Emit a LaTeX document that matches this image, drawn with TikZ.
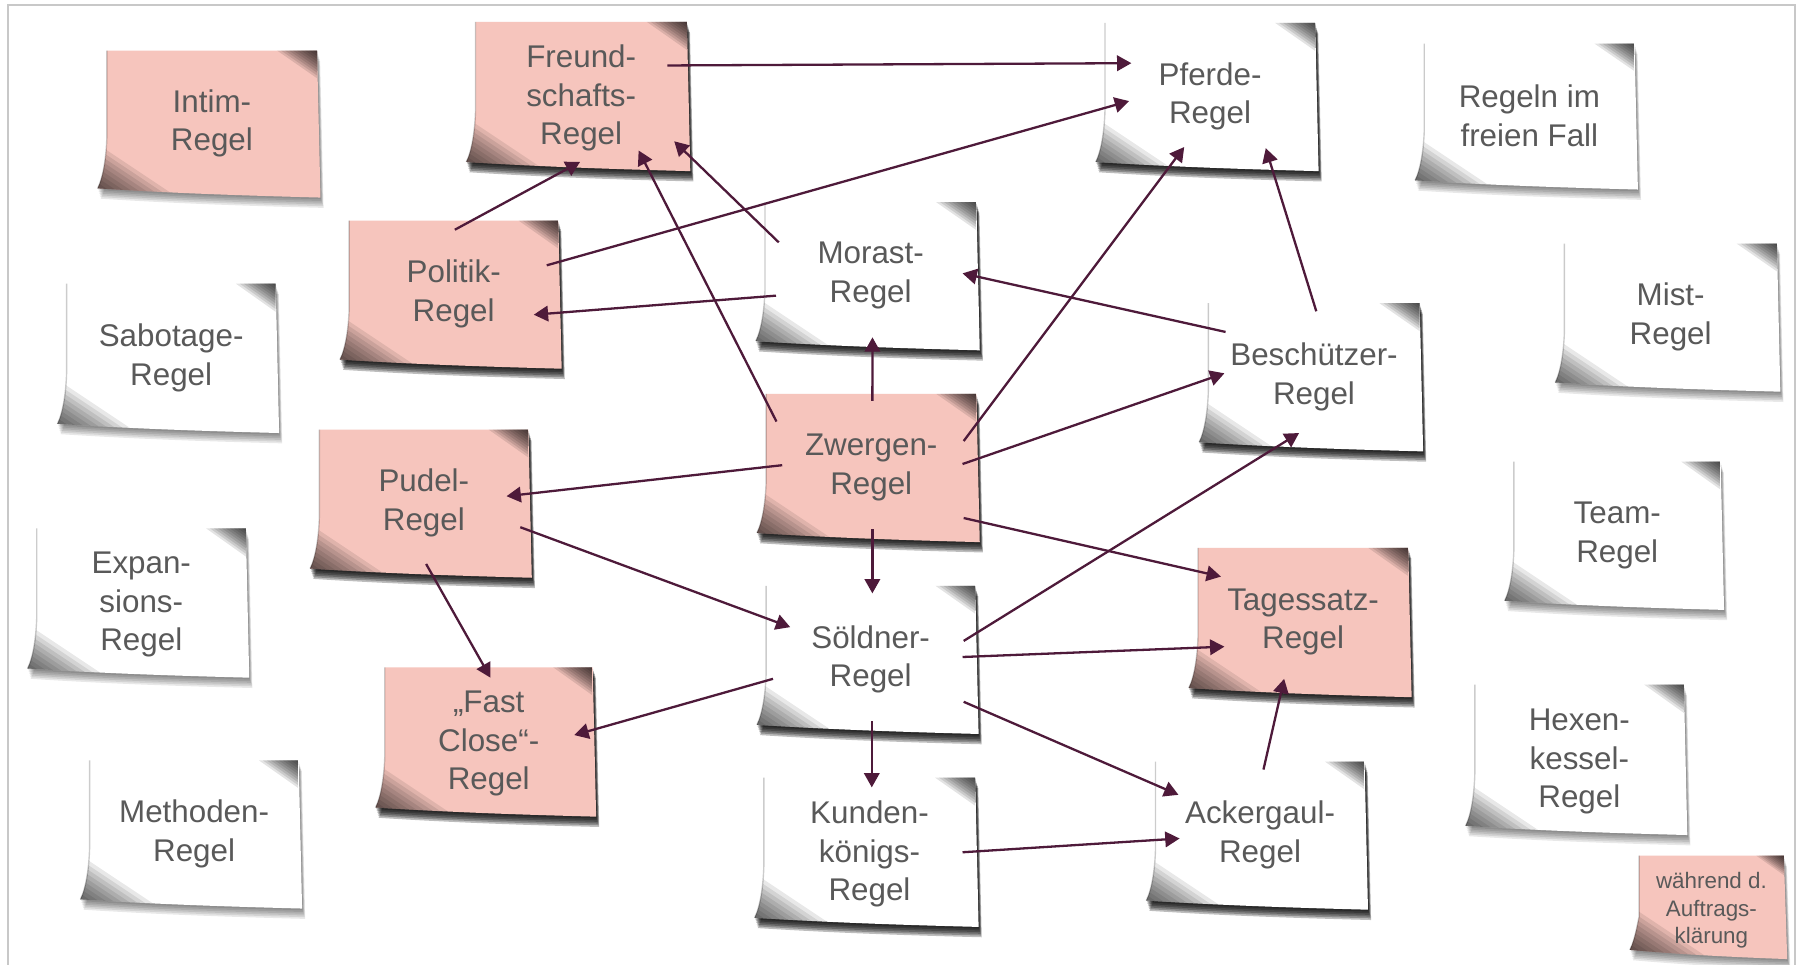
\documentclass[tikz,border=0pt]{standalone}
\usepackage{fontspec}
\setmainfont{Liberation Sans}
\usetikzlibrary{arrows.meta}

\definecolor{notepink}{RGB}{246,197,189}
\definecolor{inkgray}{RGB}{89,89,89}
\definecolor{arrowc}{RGB}{78,26,58}
\definecolor{framec}{RGB}{200,200,200}

\tikzset{
  notetext/.style={text=inkgray, align=center, inner sep=0pt},
  bigfont/.style={font=\fontsize{27.3}{33.5}\selectfont},
  smallfont/.style={font=\fontsize{19.5}{24}\selectfont, yshift=-3pt},
  arr/.style={draw=arrowc, line width=2pt, -{Triangle[length=12.5pt,width=13.5pt]}}
}

% outline of a sticky note, in local coordinates (y grows downwards)
\def\notepath{(0,0) -- (\nw,0) .. controls (\nw+1.5,0.5*\nh) .. (\nw+3,\nh+1)
  .. controls (0.6*\nw,\nh-1) and (0.3*\nw,\nh-3) .. (-8,\nh-7)
  .. controls (-3,\nh-17) and (-0.5,\nh-35) .. (0,0.6*\nh) -- cycle}

% #1 name, #2 #3 centre, #4 #5 size, #6 fill, #7 shadow strength, #8 text, #9 font style
\newcommand\stickynote[9]{%
  \pgfmathsetmacro\nw{#4}%
  \pgfmathsetmacro\nh{#5}%
  \pgfmathsetmacro\ncx{0.19*#4}%
  \pgfmathsetmacro\ncy{0.19*#5}%
  \begin{scope}[shift={({#2-#4/2},{#3-#5/2})}]
    % soft drop shadow
    \foreach \k in {1,...,6}{
      \fill[black, opacity=#7, shift={(0.45*\k,1.5*\k)}] \notepath;
    }
    % paper
    \fill[#6] \notepath;
    % faint shade along the left edge
    \draw[black, opacity=0.2, line width=1.2pt]
      (0,0) -- (0,0.6*\nh) .. controls (-0.5,\nh-35) and (-3,\nh-17) .. (-8,\nh-7);
    % lifted top-right corner: nested triangles darken towards the tip
    \begin{scope}
      \clip (\nw-\ncx,0) -- (\nw,0) -- (\nw,\ncy) -- cycle;
      \foreach \i in {1,...,10}{
        \fill[black, opacity=0.11] (\nw,0) -- (\nw-\i*\ncx/10,0) -- (\nw,\i*\ncy/10) -- cycle;
      }
    \end{scope}
    % curled bottom-left corner
    \begin{scope}
      \clip \notepath;
      \foreach \i in {1,...,11}{
        \fill[black, opacity=0.09] (-9,\nh) -- (-9,\nh-0.7*\i*6) -- (-9+1.05*\i*6,\nh) -- cycle;
      }
    \end{scope}
  \end{scope}
  \node[notetext, #9, minimum width=#4pt, minimum height=#5pt] (#1) at (#2,#3) {#8};
}

\begin{document}
\begin{tikzpicture}[x=1pt, y=-1pt]
  \useasboundingbox (0,0) rectangle (1568,840);
  \fill[white] (0,0) rectangle (1568,840);
  \draw[framec, line width=1.6pt] (7,845) -- (7,4) -- (1563,4) -- (1563,845);

  \stickynote{intim}{184.5}{107.5}{183}{127}{notepink}{0.09}{Intim-\\Regel}{bigfont}
  \stickynote{freund}{506}{83.5}{184}{129}{notepink}{0.26}{Freund-\\schafts-\\Regel}{bigfont, yshift=-2pt}
  \stickynote{pferde}{1053.5}{84}{183}{128}{white}{0.26}{Pferde-\\Regel}{bigfont}
  \stickynote{fall}{1331.5}{101}{183}{126}{white}{0.09}{Regeln im\\freien Fall}{bigfont}
  \stickynote{politik}{395}{256}{182}{128}{notepink}{0.26}{Politik-\\Regel}{bigfont}
  \stickynote{morast}{758}{240}{184}{128}{white}{0.26}{Morast-\\Regel}{bigfont}
  \stickynote{mist}{1454.5}{276}{185}{128}{white}{0.09}{Mist-\\Regel}{bigfont}
  \stickynote{sabotage}{149}{311.5}{182}{129}{white}{0.09}{Sabotage-\\Regel}{bigfont}
  \stickynote{schutz}{1144}{328}{184}{128}{white}{0.26}{Beschützer-\\Regel}{bigfont}
  \stickynote{zwerg}{758.5}{407}{183}{128}{notepink}{0.26}{Zwergen-\\Regel}{bigfont}
  \stickynote{pudel}{369}{438}{182}{128}{notepink}{0.26}{Pudel-\\Regel}{bigfont}
  \stickynote{team}{1408}{466}{180}{128}{white}{0.09}{Team-\\Regel}{bigfont}
  \stickynote{expansion}{123}{524.5}{182}{129}{white}{0.09}{Expan-\\sions-\\Regel}{bigfont, yshift=-2pt}
  \stickynote{tagessatz}{1134.5}{541.5}{183}{129}{notepink}{0.26}{Tagessatz-\\Regel}{bigfont}
  \stickynote{soeldner}{758}{574}{182}{128}{white}{0.26}{Söldner-\\Regel}{bigfont}
  \stickynote{fastclose}{425.5}{645.5}{181}{129}{notepink}{0.26}{„Fast\\Close“-\\Regel}{bigfont, yshift=-2pt}
  \stickynote{hexen}{1375}{661}{182}{130}{white}{0.09}{Hexen-\\kessel-\\Regel}{bigfont, yshift=-2pt}
  \stickynote{methoden}{169}{726}{182}{128}{white}{0.09}{Methoden-\\Regel}{bigfont}
  \stickynote{kunden}{757}{741.5}{184}{129}{white}{0.26}{Kunden-\\königs-\\Regel}{bigfont, yshift=-2pt}
  \stickynote{ackergaul}{1097}{727}{182}{128}{white}{0.26}{Ackergaul-\\Regel}{bigfont}
  \stickynote{auftrag}{1490}{789.5}{126}{89}{notepink}{0.09}{während d.\\Auftrags-\\klärung}{smallfont}

  % relations between the rules
  \draw[arr] ([shift={(75,-28.5)}]freund.center) -- ([shift={(-68.5,-29)}]pferde.center);
  \draw[arr] ([shift={(81,-25)}]politik.center) -- ([shift={(-70.5,4)}]pferde.center);
  \draw[arr] ([shift={(1,-56)}]politik.center) -- ([shift={(-1,55.5)}]freund.center);
  \draw[arr] ([shift={(-80,-29)}]morast.center) -- ([shift={(81,37.5)}]freund.center);
  \draw[arr] ([shift={(-82.5,-40)}]zwerg.center) -- ([shift={(50,45.5)}]freund.center);
  \draw[arr] ([shift={(-82.4,17.4)}]morast.center) -- ([shift={(69.7,18)}]politik.center);
  \draw[arr] ([shift={(1,-58)}]zwerg.center) -- ([shift={(1.6,53.7)}]morast.center);
  \draw[arr] ([shift={(80.5,-23)}]zwerg.center) -- ([shift={(-22.5,44)}]pferde.center);
  \draw[arr] ([shift={(79.5,-3)}]zwerg.center) -- ([shift={(-78,-3)}]schutz.center);
  \draw[arr] ([shift={(-77,-39)}]schutz.center) -- ([shift={(80,-2)}]morast.center);
  \draw[arr] ([shift={(2,-57)}]schutz.center) -- ([shift={(48.5,45)}]pferde.center);
  \draw[arr] ([shift={(-77.5,-2)}]zwerg.center) -- ([shift={(72,-6)}]pudel.center);
  \draw[arr] ([shift={(1,53.6)}]zwerg.center) -- ([shift={(1.5,-57.4)}]soeldner.center);
  \draw[arr] ([shift={(80.5,44)}]zwerg.center) -- ([shift={(-71.5,-39.5)}]tagessatz.center);
  \draw[arr] ([shift={(84,21)}]pudel.center) -- ([shift={(-70,-28)}]soeldner.center);
  \draw[arr] ([shift={(2,53)}]pudel.center) -- ([shift={(1.5,-57.5)}]fastclose.center);
  \draw[arr] ([shift={(81,-16)}]soeldner.center) -- ([shift={(-13,49)}]schutz.center);
  \draw[arr] ([shift={(80,-2)}]soeldner.center) -- ([shift={(-68.5,21.5)}]tagessatz.center);
  \draw[arr] ([shift={(-85,17)}]soeldner.center) -- ([shift={(74.5,-7.5)}]fastclose.center);
  \draw[arr] ([shift={(1,54)}]soeldner.center) -- ([shift={(2,-58)}]kunden.center);
  \draw[arr] ([shift={(81,37)}]soeldner.center) -- ([shift={(-71,-35)}]ackergaul.center);
  \draw[arr] ([shift={(81,-1.5)}]kunden.center) -- ([shift={(-70,3)}]ackergaul.center);
  \draw[arr] ([shift={(3,-57)}]ackergaul.center) -- ([shift={(-16.5,49.5)}]tagessatz.center);
\end{tikzpicture}
\end{document}
